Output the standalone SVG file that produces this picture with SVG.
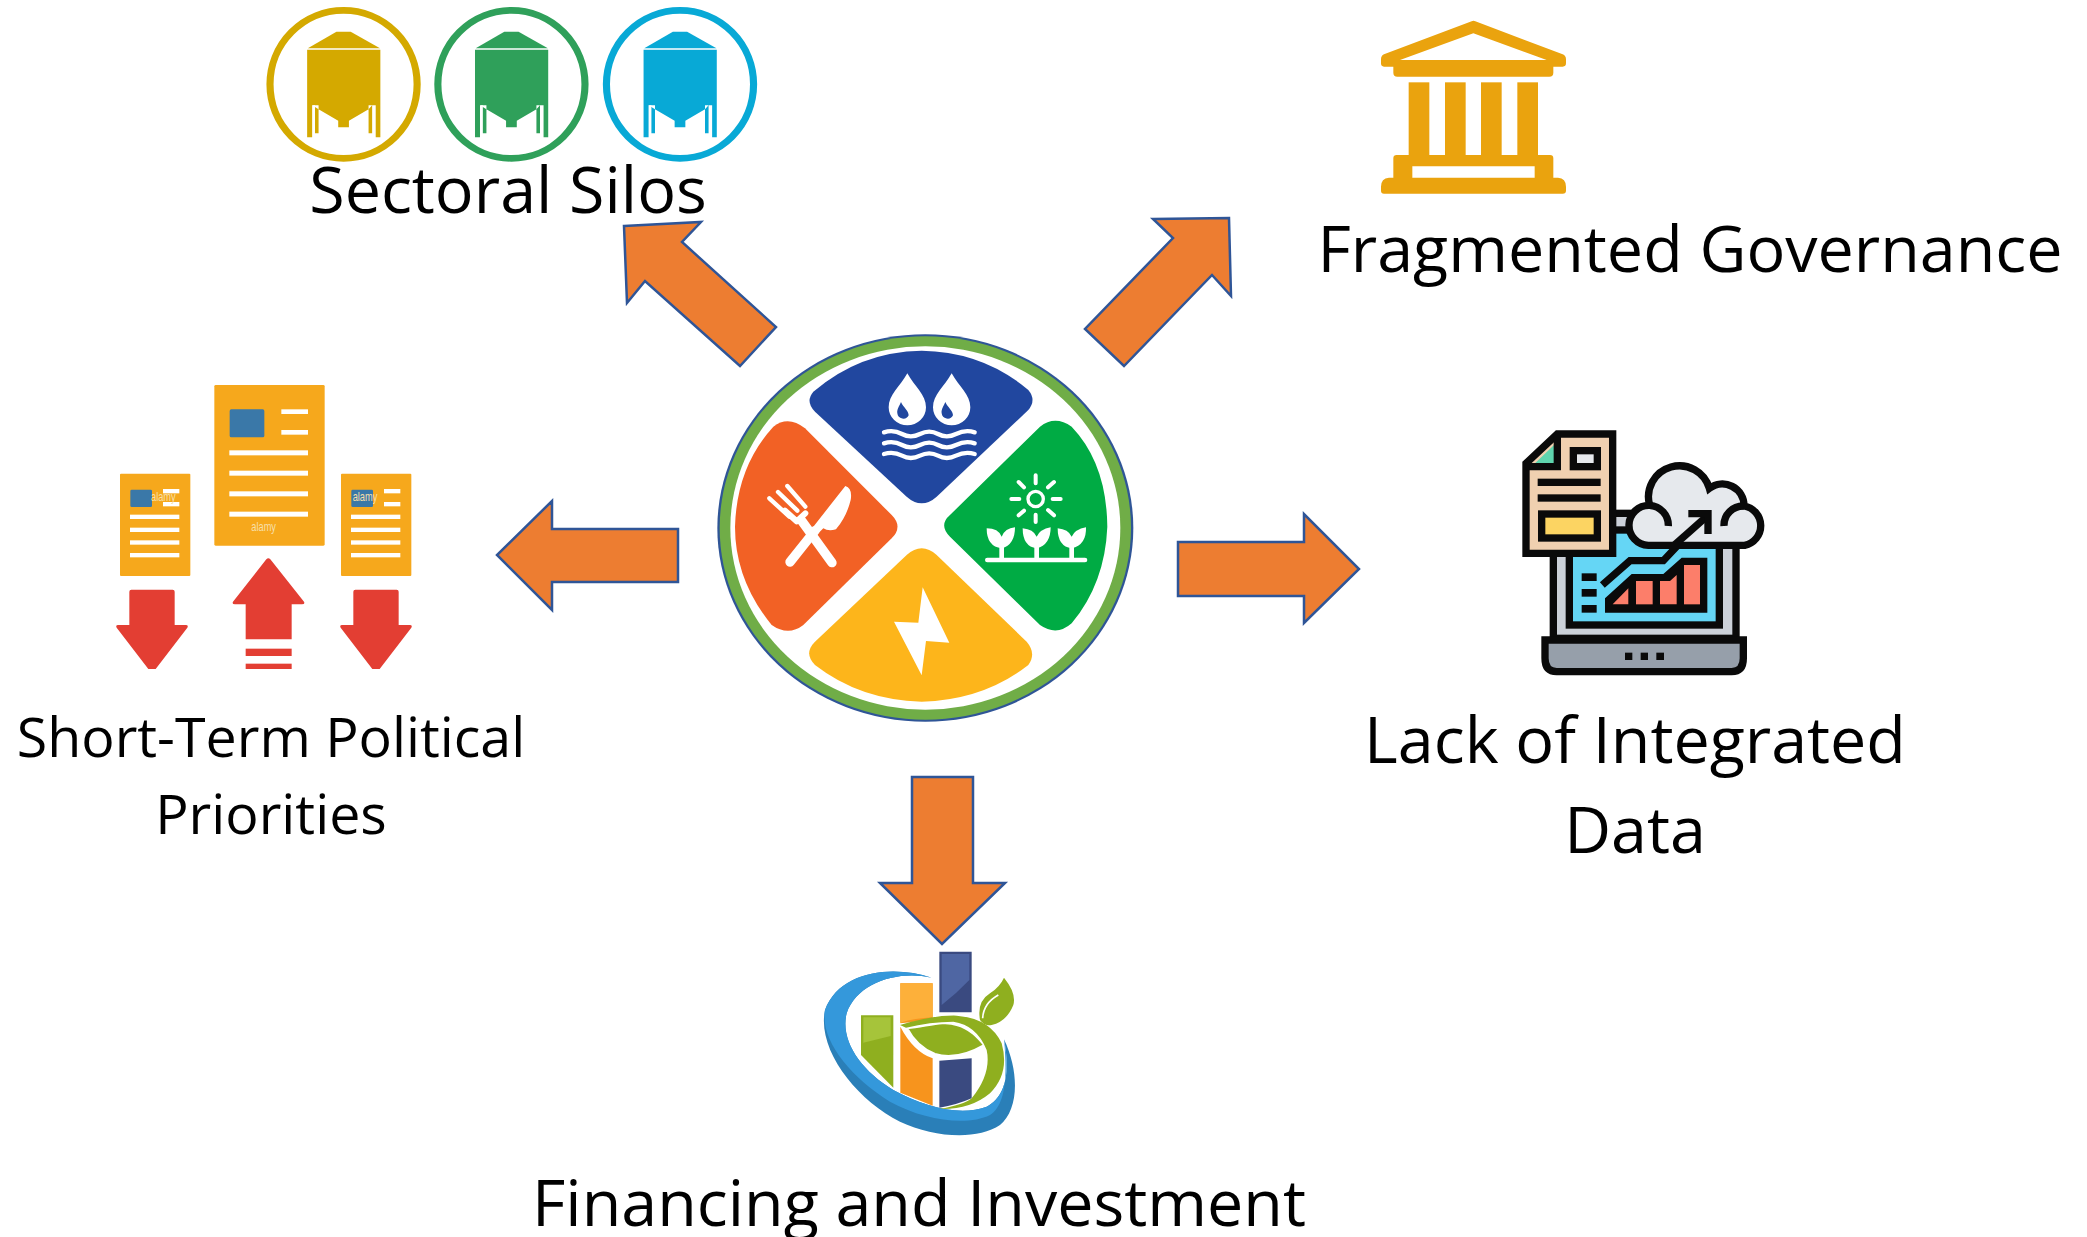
<svg xmlns="http://www.w3.org/2000/svg" xmlns:xlink="http://www.w3.org/1999/xlink" width="2087" height="1237" viewBox="0 0 2087 1237">
<style>
.lbl{font-family:"Open Sans","Liberation Sans",sans-serif;fill:#000;text-anchor:middle}
.arrow{fill:#ED7D31;stroke:#2F5597;stroke-width:2.5;stroke-linejoin:miter}
.w{fill:#fff}
.wl{fill:none;stroke:#fff;stroke-linecap:round;stroke-linejoin:round}
.k{fill:#0a0a0a}
.ko{stroke:#0a0a0a;stroke-width:22;stroke-linejoin:miter}
.doc{fill:#F6A81C}
.blue{fill:#3A78A8}
.red{fill:#E33E33}
.wm{font-family:"Liberation Sans",sans-serif;fill:#F7DFA8;text-anchor:middle}
</style>
<defs>
<g id="silo">
<path fill="currentColor" d="M190 145L270 95H310L392 145Z"/>
<path fill="currentColor" d="M188 149H393V412H380V316H370V400H360V328L305 362V382H275V362L220 328V400H210V316H202V412H188Z"/>
<path fill="#fff" d="M202 316L220 328V316ZM360 328L370 316H360Z"/>
</g>
<g id="smalldoc">
<rect class="doc" x="60" y="311" width="211" height="307" rx="3"/>
<rect class="blue" x="91" y="359" width="65" height="52" rx="4"/>
<g class="w"><rect x="189" y="357" width="49" height="13"/><rect x="189" y="396" width="49" height="13"/><rect x="90" y="434" width="148" height="13"/><rect x="90" y="473" width="148" height="13"/><rect x="90" y="511" width="148" height="13"/><rect x="90" y="549" width="148" height="13"/></g>
</g>
<path id="downarrow" class="red" d="M88 665Q88 659 94 659H218Q224 659 224 665V765H258Q266 766 262 773L167 897H145L50 773Q46 766 54 765H88Z"/>
</defs>

<rect width="2087" height="1237" fill="#fff"/>

<g id="connectors">
<path class="arrow" d="M678 529V582H552V610L497 555L552 501V529Z"/>
<path class="arrow" d="M1178 542H1304V514L1359 569L1304 623V596H1178Z"/>
<path class="arrow" d="M912 777H973V883H1005L942 944L880 883H912Z"/>
<path class="arrow" d="M624 226L701 222L682 242L776 327L740 366L645 281L627 303Z"/>
<path class="arrow" d="M1153 219L1229 218L1231 296L1212 275L1124 366L1085 329L1173 238Z"/>
</g>

<g id="node-center" transform="translate(700 320) scale(.33333)">
<ellipse cx="676" cy="624" rx="624" ry="581" fill="#2F5597"/>
<ellipse cx="676" cy="624" rx="617" ry="575" fill="#70AD47"/>
<ellipse cx="676" cy="624" rx="585" ry="545" fill="#fff"/>
<path fill="#21479F" d="M340 215Q480 95 665 92Q850 95 985 210Q1010 240 985 270L710 530Q665 570 620 530L345 275Q315 245 340 215Z"/>
<path fill="#00AB44" d="M1020 320Q1065 285 1115 320Q1220 430 1222 620Q1215 790 1115 910Q1070 950 1020 915L750 650Q715 615 750 585Z"/>
<path fill="#F26125" d="M220 320Q265 285 315 325L575 585Q610 620 575 655L310 915Q265 950 215 915Q105 780 105 620Q110 440 220 320Z"/>
<path fill="#FDB51B" d="M620 705Q665 665 710 705L980 965Q1010 1000 985 1035Q850 1140 665 1145Q480 1140 345 1035Q310 1000 345 965Z"/>
<g class="w">
<path d="M622 160C600 200 566 225 566 262A56 54 0 0 0 678 262C678 225 644 200 622 160Z"/>
<path d="M755 160C733 200 699 225 699 262A56 54 0 0 0 811 262C811 225 777 200 755 160Z"/>
</g>
<g fill="#21479F">
<path d="M603 246C598 258 590 268 592 280A18 18 0 0 0 626 286C626 272 610 262 603 246Z"/>
<path d="M736 246C731 258 723 268 725 280A18 18 0 0 0 759 286C759 272 743 262 736 246Z"/>
</g>
<g class="wl" stroke-width="13">
<path d="M552 337Q580 328 606 342T660 342T714 342T768 342T824 337"/>
<path d="M552 370Q580 361 606 375T660 375T714 375T768 375T824 370"/>
<path d="M552 402Q580 393 606 407T660 407T714 407T768 407T824 402"/>
</g>
<g class="wl">
<path stroke-width="28" d="M305 602L396 728"/>
<path stroke-width="28" d="M270 726L345 632"/>
<path stroke-width="13" d="M208 535L268 590M234 516L292 572M262 498L316 560"/>
<path stroke-width="18" d="M255 572L290 604L316 580"/>
</g>
<path class="w" d="M340 620L436 498Q458 505 452 540Q440 590 408 628Q385 635 370 625L350 645Z"/>
<g class="wl">
<circle cx="1007" cy="537" r="23" stroke-width="10"/>
<path stroke-width="12" d="M1007 466V490M1007 584V606M934 537H958M1058 537H1082M956 486L972 502M1062 486L1044 502M956 586L972 572M1062 586L1044 570"/>
<path stroke-width="14" d="M862 720H1155M905 720V675M1010 720V675M1115 720V675"/>
</g>
<g class="w">
<path d="M860 625Q895 625 905 650Q915 625 945 622Q945 675 905 685Q860 680 860 625Z"/>
<path d="M968 625Q1000 628 1010 650Q1020 628 1052 622Q1052 675 1010 685Q968 680 968 625Z"/>
<path d="M1073 625Q1105 628 1115 650Q1125 628 1158 622Q1160 675 1115 685Q1073 680 1073 625Z"/>
</g>
<path class="w" d="M668 802L748 968L678 963L665 1066L582 905L655 908Z"/>
</g>

<g id="node-silos" transform="translate(240 0) scale(.35714 .33333)">
<g id="silo-yellow" color="#D4A900"><ellipse cx="290" cy="253" rx="206" ry="222" fill="none" stroke="currentColor" stroke-width="20"/><use xlink:href="#silo" href="#silo"/></g>
<g id="silo-green" color="#2FA05A"><ellipse cx="760" cy="253" rx="206" ry="222" fill="none" stroke="currentColor" stroke-width="20"/><use xlink:href="#silo" href="#silo" x="470"/></g>
<g id="silo-blue" color="#08A9D6"><ellipse cx="1232" cy="253" rx="206" ry="222" fill="none" stroke="currentColor" stroke-width="20"/><use xlink:href="#silo" href="#silo" x="942"/></g>
</g>
<text class="lbl" x="508" y="213" font-size="64.6">Sectoral Silos</text>

<g id="node-governance">
<g transform="translate(1360 0) scale(.33333)" fill="#EAA30E">
<path fill-rule="evenodd" d="M335 64Q340 61 346 64L608 163Q618 167 618 178V190Q618 200 608 200H580V218Q580 230 568 230H112Q100 230 100 218V200H72Q63 200 63 190V178Q63 167 72 163ZM340 100L120 180H560Z"/>
<rect x="146" y="247" width="62" height="220"/><rect x="255" y="247" width="62" height="220"/><rect x="363" y="247" width="62" height="220"/><rect x="472" y="247" width="62" height="220"/>
<path fill-rule="evenodd" d="M110 465H570Q580 465 580 475V533H594Q618 535 618 560V572Q618 581 608 581H72Q63 581 63 572V560Q63 535 87 533H100V475Q100 465 110 465ZM157 499V533H524V499Z"/>
</g>
<text class="lbl" x="1690" y="272" font-size="64.6">Fragmented Governance</text>
</g>

<g id="node-data">
<g transform="translate(1500 420) scale(.33333)">
<rect x="160" y="280" width="548" height="375" fill="#CCD1D9" class="ko"/>
<rect x="208" y="330" width="450" height="285" fill="#65D6F5" class="ko"/>
<path class="ko" fill="#969FAA" d="M135 660H730V715Q730 755 695 755H170Q135 755 135 715Z"/>
<g class="k"><rect x="375" y="698" width="22" height="22"/><rect x="422" y="698" width="22" height="22"/><rect x="469" y="698" width="23" height="22"/>
<rect x="245" y="460" width="45" height="23"/><rect x="245" y="507" width="45" height="23"/><rect x="245" y="555" width="45" height="23"/>
<path d="M315 578V535L395 462H490L545 413H622V578Z"/></g>
<g fill="#FC7E6A"><path d="M338 553L385 505V553Z"/><rect x="408" y="483" width="50" height="70"/><path d="M480 483H510L530 465V553H480Z"/><rect x="552" y="435" width="48" height="118"/></g>
<path d="M307 495L390 422H490L610 295" fill="none" stroke="#0a0a0a" stroke-width="22"/>
<path class="ko" fill="#F0D0B0" d="M78 130L172 42H338V400H78Z"/>
<path fill="#5FD4AE" d="M105 130L162 75V130Z"/>
<path d="M172 42V140H78" fill="none" stroke="#0a0a0a" stroke-width="22"/>
<rect class="ko" x="220" y="92" width="72" height="48" fill="#E6E9ED"/>
<g class="k"><rect x="113" y="176" width="189" height="22"/><rect x="113" y="223" width="189" height="22"/></g>
<rect class="ko" x="125" y="282" width="167" height="72" fill="#FCD462"/>
<path class="ko" fill="#E6E9ED" d="M445 376A60 60 0 0 1 449 256A90 90 0 0 1 628 205A65 65 0 0 1 732 258A60 60 0 0 1 734 376Z"/>
<path d="M449 256A60 60 0 0 1 505 318M672 318A58 58 0 0 1 732 258" fill="none" stroke="#0a0a0a" stroke-width="22"/>
<path d="M520 378L625 285" fill="none" stroke="#0a0a0a" stroke-width="22"/>
<path d="M565 281H624V342" fill="none" stroke="#0a0a0a" stroke-width="22"/>
</g>
<text class="lbl" x="1635" y="763" font-size="64.6">Lack of Integrated</text>
<text class="lbl" x="1635" y="853" font-size="64.6">Data</text>
</g>

<g id="node-political">
<g transform="translate(100 370) scale(.33333)">
<use xlink:href="#smalldoc" href="#smalldoc"/>
<use xlink:href="#smalldoc" href="#smalldoc" x="663"/>
<rect class="doc" x="343" y="45" width="331" height="482" rx="4"/>
<rect class="blue" x="389" y="118" width="104" height="84" rx="5"/>
<g class="w"><rect x="544" y="118" width="80" height="14"/><rect x="544" y="180" width="80" height="14"/><rect x="388" y="241" width="236" height="15"/><rect x="388" y="302" width="236" height="15"/><rect x="388" y="364" width="236" height="15"/><rect x="388" y="425" width="236" height="15"/></g>
<use xlink:href="#downarrow" href="#downarrow"/>
<use xlink:href="#downarrow" href="#downarrow" x="672"/>
<path class="red" d="M499 568Q505 562 511 568L612 695Q616 703 606 703H575V808H437V703H405Q395 703 399 695Z"/>
<rect class="red" x="437" y="836" width="138" height="22"/>
<rect class="red" x="437" y="881" width="138" height="16"/>
<text class="wm" x="491" y="484" font-size="40" textLength="74" lengthAdjust="spacingAndGlyphs">alamy</text>
<text class="wm" x="190" y="393" font-size="40" textLength="74" lengthAdjust="spacingAndGlyphs">alamy</text>
<text class="wm" x="795" y="393" font-size="40" textLength="74" lengthAdjust="spacingAndGlyphs">alamy</text>
</g>
<text class="lbl" x="271" y="757" font-size="55.5">Short-Term Political</text>
<text class="lbl" x="271" y="834" font-size="55.5">Priorities</text>
</g>

<g id="node-financing">
<g transform="translate(800 930) scale(.33333)">
<path fill="#2A7FB8" d="M395 143C280 105 120 120 75 240C50 360 170 510 300 575C400 622 530 632 600 585C655 540 660 430 612 328C630 420 620 500 560 530C480 560 370 530 280 480C180 420 120 330 140 250C170 160 290 120 395 143Z"/>
<path fill="#3498DB" d="M395 143C280 105 120 120 75 240C60 330 150 440 270 515C370 570 500 590 570 555C610 530 625 460 612 328C630 420 620 500 560 530C480 560 370 530 280 480C180 420 120 330 140 250C170 160 290 120 395 143Z"/>
<path fill="#8FAF1F" d="M183 256H280V473L183 375Z"/>
<path fill="#A6C43A" d="M190 262H272V318L190 338Z"/>
<path fill="#F7941D" d="M301 160H398V270L301 280ZM301 290Q340 365 398 385V527L301 488Z"/>
<path fill="#FDB03A" d="M301 160H398V262Q345 265 301 278Z"/>
<path fill="#3A4A80" d="M418 65H515V247L418 247ZM418 392L515 385V505Q470 525 418 533Z"/>
<path fill="#4F66A3" d="M425 72H508V150Q470 190 425 225Z"/>
<path fill="#8FAF1F" stroke="#fff" stroke-width="6" d="M322 295C380 290 430 270 470 285C510 295 535 325 552 345C500 375 450 385 405 372C365 355 340 330 322 295Z"/>
<path fill="#8FAF1F" d="M300 285Q400 255 470 257Q570 265 605 340Q630 430 570 490Q510 540 418 537Q490 525 515 505Q575 430 560 360Q530 285 460 275Q390 275 318 293Z"/>
<path fill="#8FAF1F" d="M612 143Q650 190 640 225Q620 275 575 285Q555 290 540 270Q530 215 570 190Q600 170 612 143Z"/>
<path fill="none" stroke="#fff" stroke-width="5" d="M595 195Q550 220 548 265"/>
</g>
<text class="lbl" x="919" y="1226" font-size="64.6">Financing and Investment</text>
</g>
</svg>
